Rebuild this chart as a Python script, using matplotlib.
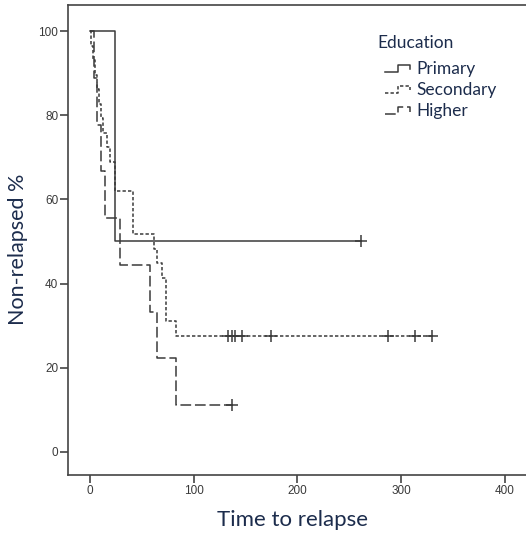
import numpy as np
import matplotlib
matplotlib.use("Agg")
import matplotlib.pyplot as plt
from matplotlib.lines import Line2D
from matplotlib.legend_handler import HandlerLine2D

# ---- data (time, event flag: 1 = relapse, 0 = censored) ----
groups = ["Primary", "Secondary", "Higher"]

primary_time = [24, 261]
primary_event = [1, 0]

secondary_time = [1, 3, 5, 7, 9, 11, 13, 16, 19, 24, 24, 41, 41, 41, 62, 65, 69,
                  73, 73, 73, 83, 133, 137, 140, 147, 175, 287, 313, 330]
secondary_event = [1] * 21 + [0] * 8

higher_time = [4, 7, 11, 14.5, 29, 58, 65, 83, 137]
higher_event = [1, 1, 1, 1, 1, 1, 1, 1, 0]

x_ticks = [0, 100, 200, 300, 400]
y_ticks = [0, 20, 40, 60, 80, 100]


def km(times, events):
    t = np.asarray(times, float)
    e = np.asarray(events, int)
    order = np.argsort(t, kind="stable")
    t, e = t[order], e[order]
    xs, ys = [0.0], [100.0]
    s = 1.0
    cens_t, cens_s = [], []
    for ut in np.unique(t):
        at_risk = np.sum(t >= ut)
        d = np.sum((t == ut) & (e == 1))
        c = np.sum((t == ut) & (e == 0))
        if d > 0:
            s *= (1 - d / at_risk)
            xs.append(ut)
            ys.append(s * 100)
        if c > 0:
            cens_t.append(ut)
            cens_s.append(s * 100)
    xs.append(t.max())
    ys.append(s * 100)
    return np.array(xs), np.array(ys), cens_t, cens_s


W, H = 526, 533
fig = plt.figure(figsize=(W / 100, H / 100), dpi=100)
ax = fig.add_axes([68 / W, 1 - 475 / H, 1 - 68 / W, (475 - 5) / H])

line_col = "#3a3a3a"
styles = {
    "Primary": dict(linestyle="-"),
    "Secondary": dict(linestyle=(0, (2.2, 1.4))),
    "Higher": dict(linestyle=(0, (7, 2.5))),
}
data = {
    "Primary": (primary_time, primary_event),
    "Secondary": (secondary_time, secondary_event),
    "Higher": (higher_time, higher_event),
}
handles = []
for g in groups:
    xs, ys, ct, cs = km(*data[g])
    ax.step(xs, ys, where="post", color=line_col, lw=1.1, **styles[g])
    ax.plot(ct, cs, linestyle="none", marker="+", markersize=8, mew=1.1, color=line_col)
    handles.append(Line2D([], [], color=line_col, lw=1.1, **styles[g]))

ax.set_xlim(-21.2, 420.4)
ax.set_ylim(-5.5, 106.2)
ax.set_xticks(x_ticks)
ax.set_yticks(y_ticks)
ax.spines["right"].set_visible(False)
for s in ["left", "bottom", "top"]:
    ax.spines[s].set_color("#444444")
    ax.spines[s].set_linewidth(1.2)
ax.tick_params(direction="out", length=5.5, width=1.2, color="#444444",
               labelsize=8.5, labelcolor="#3a3a3a", pad=1.5)
for lab in ax.get_xticklabels() + ax.get_yticklabels():
    lab.set_family("Liberation Sans")

lab_col = "#1c2c4c"
ax.set_xlabel("Time to relapse", fontsize=16, family="Lato", color=lab_col)
ax.set_ylabel("Non-relapsed %", fontsize=15.5, family="Lato", color=lab_col)
ax.xaxis.set_label_coords(0.491, -0.074)
ax.yaxis.set_label_coords(-0.088, 0.481)


class StepHandler(HandlerLine2D):
    def create_artists(self, legend, orig_handle, xdescent, ydescent,
                       width, height, fontsize, trans):
        xs = np.array([0.0, 0.5, 0.5, 0.95, 0.95]) * width - xdescent
        ys = np.array([0.2, 0.2, 0.75, 0.75, 0.4]) * height - ydescent
        ln = Line2D(xs, ys)
        ln.update_from(orig_handle)
        ln.set_marker("")
        ln.set_transform(trans)
        return [ln]


fig.text(377 / W, 1 - 43 / H, "Education", ha="left", va="center",
         family="Lato", fontsize=12.5, color=lab_col)
leg = fig.legend(handles, groups, loc="upper left",
                 bbox_to_anchor=(385 / W, 1 - 61 / H), frameon=False,
                 borderpad=0, borderaxespad=0, handlelength=1.5,
                 handletextpad=0.3, labelspacing=0.3,
                 prop=dict(family="Lato", size=12.5),
                 handler_map={Line2D: StepHandler()})
for t in leg.get_texts():
    t.set_color(lab_col)

fig.savefig("out.png", dpi=100)
